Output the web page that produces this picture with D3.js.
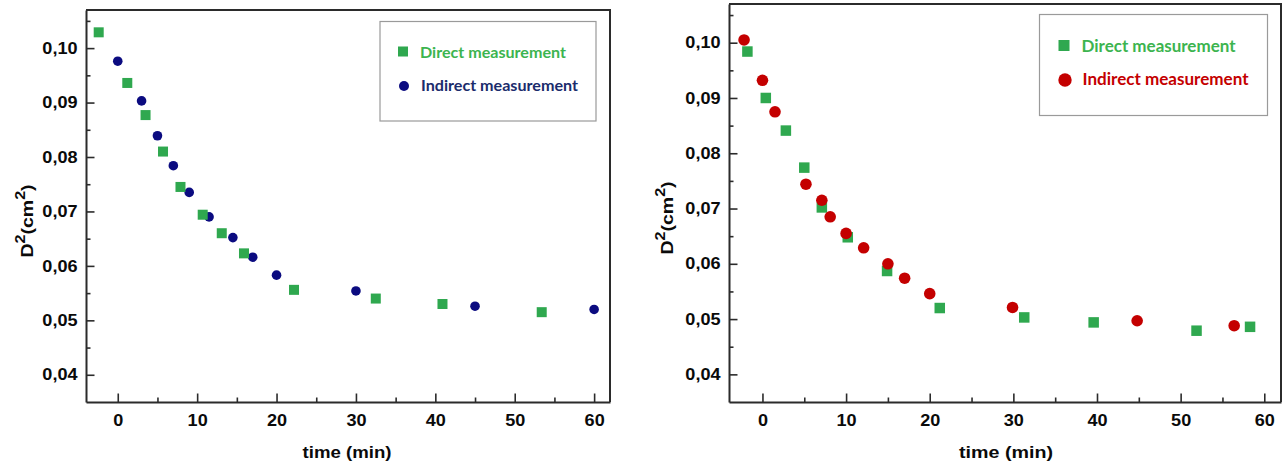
<!DOCTYPE html>
<html>
<head>
<meta charset="utf-8">
<script src="https://cdn.jsdelivr.net/npm/d3@7"></script>
<style>
  html, body { margin: 0; padding: 0; background: #fff; }
  svg { display: block; }
</style>
</head>
<body>
<svg id="chart" width="1285" height="467"></svg>
<script>
// Axis ticks (shared by both panels)
const timeTicks = [0, 10, 20, 30, 40, 50, 60];
const timeMinorTicks = [-5, 5, 15, 25, 35, 45, 55];
const d2Ticks = [0.04, 0.05, 0.06, 0.07, 0.08, 0.09, 0.10];
const d2MinorTicks = [0.035, 0.045, 0.055, 0.065, 0.075, 0.085, 0.095, 0.105];
const seriesNames = ["Direct measurement", "Indirect measurement"];

// Left panel: droplet D² (cm²) against time (min)
const leftDirectTime = [-2.4, 1.2, 3.5, 5.7, 7.9, 10.7, 13.1, 15.9, 22.2, 32.5, 40.9, 53.4];
const leftDirectD2   = [0.1029, 0.0936, 0.0877, 0.0810, 0.0745, 0.0694, 0.0660, 0.0623, 0.0556, 0.0540, 0.0530, 0.0515];
const leftIndirectTime = [0, 3, 5, 7, 9, 11.5, 14.5, 17, 20, 30, 45, 60];
const leftIndirectD2   = [0.0976, 0.0903, 0.0839, 0.0784, 0.0735, 0.0690, 0.0652, 0.0616, 0.0583, 0.0554, 0.0526, 0.0520];

// Right panel
const rightDirectTime = [-1.8, 0.4, 2.8, 5.0, 7.1, 10.2, 14.9, 21.2, 31.3, 39.6, 51.9, 58.3];
const rightDirectD2   = [0.0984, 0.0900, 0.0841, 0.0774, 0.0702, 0.0648, 0.0587, 0.0520, 0.0503, 0.0494, 0.0479, 0.0486];
const rightIndirectTime = [-2.2, 0, 1.5, 5.2, 7.1, 8.1, 10.0, 12.1, 15.0, 17.0, 20.0, 29.9, 44.8, 56.4];
const rightIndirectD2   = [0.1005, 0.0932, 0.0875, 0.0744, 0.0715, 0.0685, 0.0655, 0.0629, 0.0600, 0.0574, 0.0546, 0.0521, 0.0497, 0.0488];

const GREEN = "#2fa84f";
const GREEN_TEXT = "#3cb44f";
const NAVY = "#0b0b80";
const NAVY_TEXT = "#1b2c6c";
const RED = "#c40000";
const FRAME = "#2b2b2b";

const svg = d3.select("#chart");
const fmt = d => d3.format(".2f")(d).replace(".", ",");

function zip(xs, ys) { return xs.map((x, i) => ({ x, y: ys[i] })); }

function drawPanel(p) {
  const x = d3.scaleLinear().domain([-4, 62]).range([p.left, p.right]);
  const y = d3.scaleLinear().domain([0.035, 0.107]).range([p.bottom, p.top]);
  const g = svg.append("g");

  // top and right frame lines
  g.append("path")
    .attr("d", `M${p.left},${p.top}H${p.right}V${p.bottom}`)
    .attr("fill", "none").attr("stroke", FRAME).attr("stroke-width", 2);

  // minor ticks (inward)
  g.append("g").attr("transform", `translate(0,${p.bottom})`)
    .call(d3.axisBottom(x).tickValues(timeMinorTicks.filter(t => t > -4)).tickSize(-4.5).tickSizeOuter(0).tickFormat(""))
    .call(a => a.select(".domain").remove());
  g.append("g").attr("transform", `translate(${p.left},0)`)
    .call(d3.axisLeft(y).tickValues(d2MinorTicks.filter(t => t > 0.0352)).tickSize(-4.5).tickSizeOuter(0).tickFormat(""))
    .call(a => a.select(".domain").remove());

  // major axes
  const xa = g.append("g").attr("transform", `translate(0,${p.bottom})`)
    .call(d3.axisBottom(x).tickValues(timeTicks).tickSize(-8.5).tickSizeOuter(0).tickPadding(13).tickFormat(d3.format("d")));
  const ya = g.append("g").attr("transform", `translate(${p.left},0)`)
    .call(d3.axisLeft(y).tickValues(d2Ticks).tickSize(-8.5).tickSizeOuter(0).tickPadding(7.5).tickFormat(fmt));

  [xa, ya].forEach(a => {
    a.select(".domain").attr("stroke", FRAME).attr("stroke-width", 2);
    a.selectAll(".tick text")
      .attr("fill", "#0a0a0a")
      .style("font-family", "'Liberation Sans', Arial, sans-serif")
      .style("font-weight", "bold")
      .style("font-size", "16px")
      .attr("transform", "scale(1.13,1)");
  });
  g.selectAll(".tick line").attr("stroke", FRAME).attr("stroke-width", 1.6);

  // axis titles
  g.append("text")
    .attr("x", p.xTitleX).attr("y", 458)
    .attr("text-anchor", "middle")
    .attr("textLength", p.xTitleLen).attr("lengthAdjust", "spacingAndGlyphs")
    .style("font-family", "'Liberation Sans', Arial, sans-serif")
    .style("font-weight", "bold").style("font-size", "17px")
    .attr("fill", "#0a0a0a")
    .text("time (min)");

  const yt = g.append("text")
    .attr("transform", `translate(${p.yTitleX},${p.yTitleY}) rotate(-90) scale(1.15,1)`)
    .attr("text-anchor", "middle")
    .style("font-family", "'Liberation Sans', Arial, sans-serif")
    .style("font-weight", "bold").style("font-size", "17px")
    .attr("fill", "#0a0a0a");
  yt.append("tspan").text("D");
  yt.append("tspan").attr("dy", -8).style("font-size", "14px").text("2");
  yt.append("tspan").attr("dy", 8).text("(cm");
  yt.append("tspan").attr("dy", -8).style("font-size", "14px").text("2");
  yt.append("tspan").attr("dy", 8).text(")");

  // markers
  const drawSquares = (data, size) => g.append("g").selectAll("rect").data(data).join("rect")
    .attr("x", d => x(d.x) - size / 2).attr("y", d => y(d.y) - size / 2)
    .attr("width", size).attr("height", size).attr("fill", GREEN);
  const drawCircles = (data, r, color) => g.append("g").selectAll("circle").data(data).join("circle")
    .attr("cx", d => x(d.x)).attr("cy", d => y(d.y)).attr("r", r).attr("fill", color);

  if (p.squaresOnTop) {
    drawCircles(p.indirect, p.circleR, p.circleColor);
    drawSquares(p.direct, p.squareSize);
  } else {
    drawSquares(p.direct, p.squareSize);
    drawCircles(p.indirect, p.circleR, p.circleColor);
  }

  // legend
  const L = p.legend;
  g.append("rect")
    .attr("x", L.x).attr("y", L.y).attr("width", L.w).attr("height", L.h)
    .attr("fill", "#fff").attr("stroke", "#9a9a9a").attr("stroke-width", 1.2);
  g.append("rect")
    .attr("x", L.x + L.markerDx - L.sq / 2).attr("y", L.y + L.row1 - L.sq / 2)
    .attr("width", L.sq).attr("height", L.sq).attr("fill", GREEN);
  g.append("circle")
    .attr("cx", L.x + L.markerDx + 1).attr("cy", L.y + L.row2)
    .attr("r", L.cr).attr("fill", p.circleColor);
  const legText = (txt, dx, baseline, len, color) => g.append("text")
    .attr("x", L.x + dx).attr("y", L.y + baseline)
    .attr("textLength", len).attr("lengthAdjust", "spacingAndGlyphs")
    .style("font-family", "Lato, 'Open Sans', sans-serif")
    .style("font-weight", "bold").style("font-size", L.font + "px")
    .attr("fill", color).text(txt);
  legText(seriesNames[0], L.t1dx, L.b1, L.len1, GREEN_TEXT);
  legText(seriesNames[1], L.t2dx, L.b2, L.len2, p.textColor);
}

drawPanel({
  left: 86, right: 610, top: 10, bottom: 402,
  direct: zip(leftDirectTime, leftDirectD2),
  indirect: zip(leftIndirectTime, leftIndirectD2),
  squareSize: 10, circleR: 4.8, circleColor: NAVY, textColor: NAVY_TEXT,
  squaresOnTop: true,
  xTitleX: 347, xTitleLen: 89,
  yTitleX: 33, yTitleY: 221,
  legend: { x: 380, y: 21.5, w: 216, h: 99.5, markerDx: 23, sq: 10, cr: 5,
            row1: 30, row2: 64.5, font: 16,
            t1dx: 40, b1: 36, len1: 146, t2dx: 41, b2: 69, len2: 157 }
});

drawPanel({
  left: 729, right: 1281, top: 4, bottom: 402,
  direct: zip(rightDirectTime, rightDirectD2),
  indirect: zip(rightIndirectTime, rightIndirectD2),
  squareSize: 10.5, circleR: 5.8, circleColor: RED, textColor: RED,
  squaresOnTop: false,
  xTitleX: 1006, xTitleLen: 94,
  yTitleX: 673, yTitleY: 218,
  legend: { x: 1039.5, y: 14.5, w: 228, h: 101, markerDx: 24.5, sq: 11, cr: 6.7,
            row1: 31, row2: 65.5, font: 17,
            t1dx: 42, b1: 37, len1: 154, t2dx: 43, b2: 70.5, len2: 166 }
});
</script>
</body>
</html>
